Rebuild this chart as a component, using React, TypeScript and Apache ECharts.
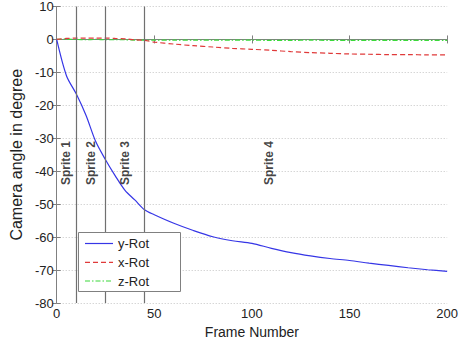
import React, { useEffect, useRef } from "react";
import * as echarts from "echarts";

const frames = [0, 5, 10, 15, 20, 25, 30, 35, 40, 45, 50, 60, 70, 80, 90, 100, 110, 120, 130, 140, 150, 160, 170, 180, 190, 200];
const yRot = [0, -11, -16.5, -23, -31, -36.5, -41.4, -45.8, -48.7, -51.7, -53.2, -55.8, -58, -59.9, -61.1, -61.9, -63.4, -64.7, -65.7, -66.5, -67.1, -67.9, -68.6, -69.3, -69.9, -70.4];
const xRot = [0, 0.3, 0.4, 0.4, 0.4, 0.4, 0.3, 0.2, -0.1, -0.3, -0.8, -1.4, -1.9, -2.3, -2.7, -3.0, -3.3, -3.7, -4.0, -4.2, -4.4, -4.5, -4.6, -4.6, -4.7, -4.7];
const zRot = [0, 0.1, 0, -0.1, 0, -0.1, -0.1, -0.1, -0.2, -0.2, -0.2, -0.2, -0.2, -0.2, -0.2, -0.2, -0.3, -0.3, -0.2, -0.3, -0.3, -0.3, -0.3, -0.3, -0.3, -0.3];
const spriteBounds = [10, 25, 45];
const spriteNames = ["Sprite 1", "Sprite 2", "Sprite 3", "Sprite 4"];
const spriteLabelX = [5, 17.5, 35, 109];
const spriteLabelY = -37.5;
const seriesNames = ["y-Rot", "x-Rot", "z-Rot"];

const FONT = "'Liberation Sans', Arial, sans-serif";
const COLORS = ["#3636e6", "#e03a3a", "#3ad83a"];
const DASHES: (number[] | null)[] = [null, [5, 3], [5, 2, 1.5, 2]];

export default function App() {
  const ref = useRef<HTMLDivElement>(null);
  useEffect(() => {
    if (!ref.current) return;
    const chart = echarts.init(ref.current, undefined, { renderer: "svg" });
    const axisColor = "#808080";
    const pair = (ys: number[]) => frames.map((f, i) => [f, ys[i]]);
    const seriesData = [yRot, xRot, zRot];

    const legendX = 78;
    const legendY = 232;
    const rowY = [243.5, 262.3, 281];
    const legendGraphics: any[] = [
      {
        type: "rect",
        shape: { x: legendX + 0.5, y: legendY + 0.5, width: 102, height: 59 },
        style: { fill: "#ffffff", stroke: "#808080", lineWidth: 1 },
        z: 100,
      },
    ];
    seriesNames.forEach((name, i) => {
      legendGraphics.push({
        type: "line",
        shape: { x1: 85, y1: rowY[i], x2: 113, y2: rowY[i] },
        style: { stroke: COLORS[i], lineWidth: 1.2, lineDash: DASHES[i] || undefined },
        z: 101,
      });
      legendGraphics.push({
        type: "text",
        x: 118,
        y: rowY[i],
        style: {
          text: name,
          fill: "#222",
          font: `13px ${FONT}`,
          textVerticalAlign: "middle",
          verticalAlign: "middle",
          align: "left",
        },
        z: 101,
      });
    });

    chart.setOption({
      animation: false,
      backgroundColor: "#ffffff",
      textStyle: { fontFamily: FONT },
      grid: { left: 54, right: 10, top: 2, bottom: 42, containLabel: false },
      xAxis: [
        {
          type: "value",
          min: 0,
          max: 200,
          interval: 50,
          name: "Frame Number",
          nameLocation: "middle",
          nameGap: 20,
          nameTextStyle: { fontSize: 14, color: "#222", fontFamily: FONT },
          axisLine: { show: true, lineStyle: { color: axisColor } },
          axisTick: { show: true, inside: true, length: 4, lineStyle: { color: axisColor } },
          axisLabel: { fontSize: 13, color: "#222", margin: 4, fontFamily: FONT },
          splitLine: { show: false },
        },
        {
          type: "value",
          position: "top",
          min: 0,
          max: 200,
          interval: 50,
          axisLine: { show: true, lineStyle: { color: axisColor } },
          axisTick: { show: true, inside: true, length: 4, lineStyle: { color: axisColor } },
          axisLabel: { show: false },
          splitLine: { show: false },
        },
      ],
      yAxis: [
        {
          type: "value",
          min: -80,
          max: 10,
          interval: 10,
          name: "Camera angle in degree",
          nameLocation: "middle",
          nameGap: 30,
          nameTextStyle: { fontSize: 16, color: "#222", fontFamily: FONT },
          axisLine: { show: true, lineStyle: { color: axisColor } },
          axisTick: { show: true, inside: true, length: 4, lineStyle: { color: axisColor } },
          axisLabel: { fontSize: 13, color: "#222", margin: 3, fontFamily: FONT },
          splitLine: { show: true, lineStyle: { color: "#c4c4c4", type: [1, 2], width: 1 } },
        },
        {
          type: "value",
          position: "right",
          min: -80,
          max: 10,
          interval: 10,
          axisLine: { show: true, lineStyle: { color: axisColor } },
          axisTick: { show: true, inside: true, length: 4, lineStyle: { color: axisColor } },
          axisLabel: { show: false },
          splitLine: { show: false },
        },
      ],
      graphic: legendGraphics,
      series: [
        {
          name: "Sprite lines",
          type: "line",
          data: [],
          markLine: {
            silent: true,
            symbol: ["none", "none"],
            label: { show: false },
            lineStyle: { color: "#707070", type: "solid", width: 1.2 },
            data: spriteBounds.map((x) => ({ xAxis: x })),
          },
          z: 1,
        },
        ...seriesNames.map((name, i) => ({
          name,
          type: "line",
          data: pair(seriesData[i]),
          showSymbol: false,
          smooth: 0.3,
          lineStyle: { color: COLORS[i], width: 1.2, type: DASHES[i] || "solid" },
          itemStyle: { color: COLORS[i] },
          z: i === 2 ? 2 : 3,
        })),
        {
          name: "Sprite labels",
          type: "scatter",
          symbolSize: 0,
          silent: true,
          data: spriteNames.map((n, i) => ({ value: [spriteLabelX[i], spriteLabelY], name: n })),
          label: {
            show: true,
            position: "inside",
            rotate: 90,
            formatter: (p: any) => p.name,
            fontSize: 12,
            fontWeight: "bold",
            color: "#111",
            fontFamily: FONT,
            align: "center",
            verticalAlign: "middle",
          },
          z: 4,
        },
      ],
    });
    return () => chart.dispose();
  }, []);
  return <div ref={ref} style={{ width: 461, height: 345, position: "absolute", left: 0, top: 0 }} />;
}
